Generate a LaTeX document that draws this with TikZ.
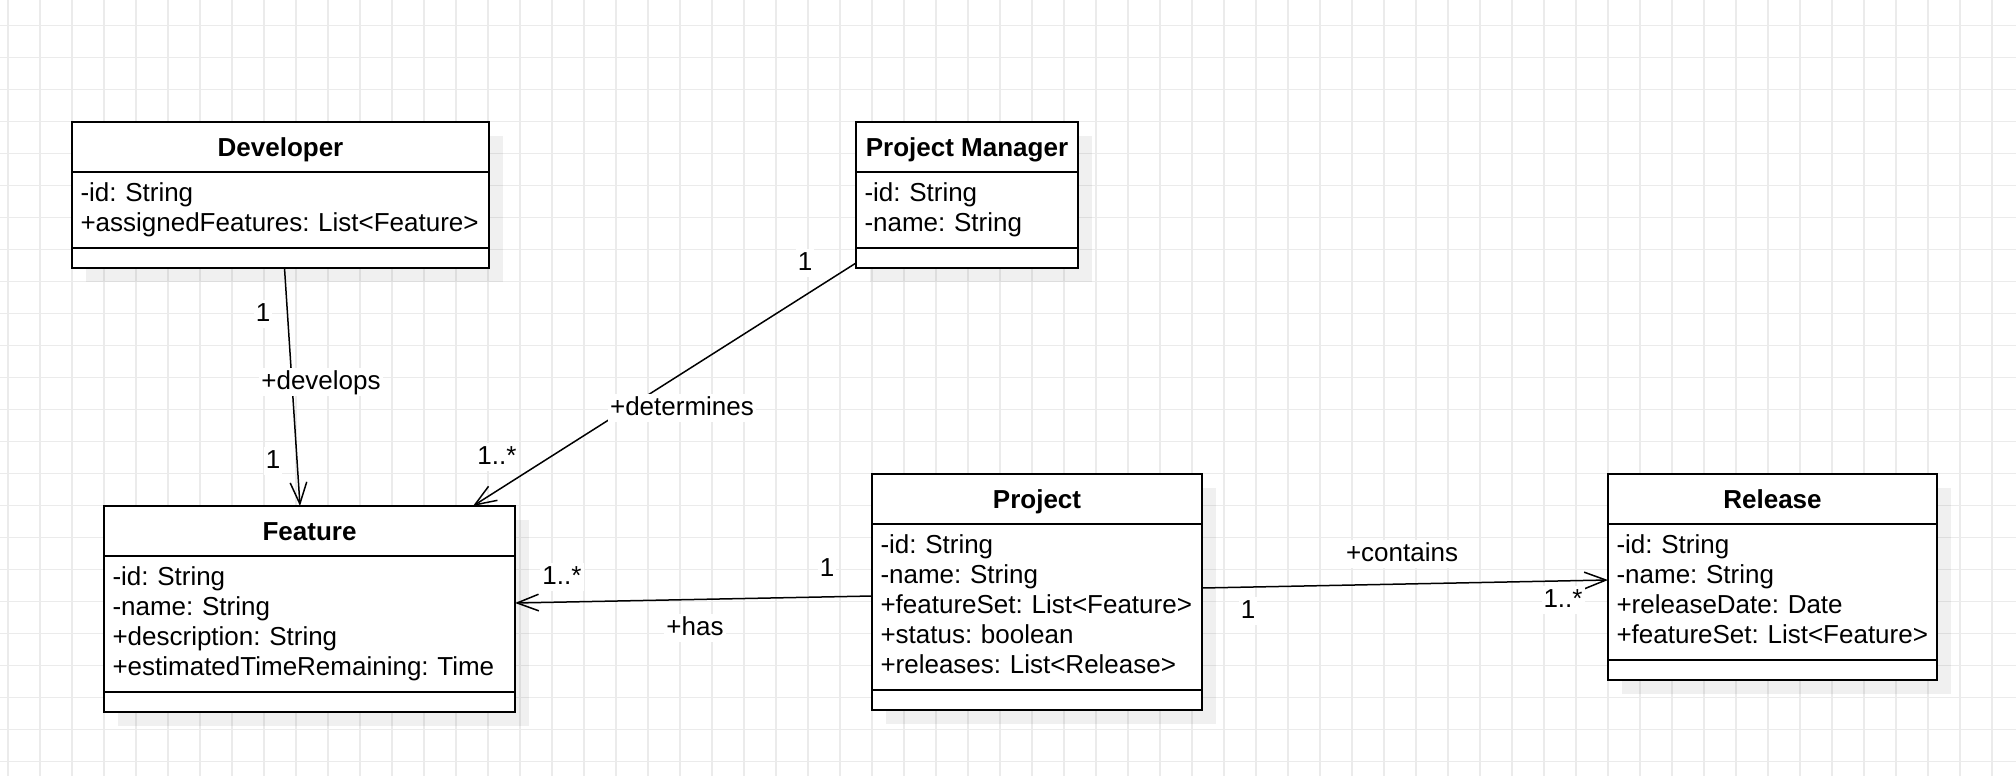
\documentclass[tikz,border=0pt]{standalone}
\usepackage{fontspec}
\setmainfont{Liberation Sans}
\usetikzlibrary{positioning,arrows.meta,shadows}
\definecolor{gridgray}{HTML}{EBEBEB}

\tikzset{
  gridline/.style={draw=gridgray, line width=0.65pt},
  boxshadow/.style={drop shadow={shadow xshift=7pt, shadow yshift=-7pt, fill=black, opacity=0.06}},
  clshead/.style={draw, line width=0.9pt, fill=white, outer sep=0pt, inner sep=0pt,
    minimum height=25pt, text height=9.7pt, text depth=0pt,
    font=\fontsize{13pt}{15pt}\selectfont\bfseries, boxshadow},
  clsattr/.style={draw, line width=0.9pt, fill=white, outer sep=0pt, inner xsep=4.25pt, inner ysep=0pt,
    align=left, font=\fontsize{13pt}{15pt}\selectfont, boxshadow},
  clsops/.style={draw, line width=0.9pt, fill=white, outer sep=0pt, inner sep=0pt,
    minimum height=10pt, boxshadow},
  assoc/.style={line width=0.75pt, -{Straight Barb[length=10.8pt,width=8.3pt]}},
  lbl/.style={fill=white, inner xsep=1pt, inner ysep=0.5pt, text height=10pt, text depth=3pt,
    font=\fontsize{13pt}{15pt}\selectfont}
}

\begin{document}
\begin{tikzpicture}[x=0.5pt, y=-0.5pt]
\useasboundingbox (0,0) rectangle (2016,776);
\foreach \i in {0,...,62} \draw[gridline] ({8+32*\i},0) -- ({8+32*\i},776);
\foreach \j in {0,...,23} \draw[gridline] (0,{25.7+32*\j}) -- (2016,{25.7+32*\j});

\node[clshead, minimum width=208.5pt, anchor=north west] (dev) at (72,122) {Developer};
\node[clsattr, below=0pt of dev, text width=200pt, minimum height=38pt] (devattr)
  {\strut-id:~String\\+assignedFeatures:~List<Feature>\strut};
\node[clsops, below=0pt of devattr, minimum width=208.5pt] (devops) {};

\node[clshead, minimum width=111pt, anchor=north west] (pm) at (856,122) {Project Manager};
\node[clsattr, below=0pt of pm, text width=102.5pt, minimum height=38pt] (pmattr)
  {\strut-id:~String\\-name:~String\strut};
\node[clsops, below=0pt of pmattr, minimum width=111pt] (pmops) {};

\node[clshead, minimum width=205.5pt, anchor=north west] (feat) at (104,506) {Feature};
\node[clsattr, below=0pt of feat, text width=197pt, minimum height=68pt] (featattr)
  {\strut-id:~String\\-name:~String\\+description:~String\\+estimatedTimeRemaining:~Time\strut};
\node[clsops, below=0pt of featattr, minimum width=205.5pt] (featops) {};

\node[clshead, minimum width=165pt, anchor=north west] (proj) at (872,474) {Project};
\node[clsattr, below=0pt of proj, text width=156.5pt, minimum height=83pt] (projattr)
  {\strut-id:~String\\-name:~String\\+featureSet:~List<Feature>\\+status:~boolean\\+releases:~List<Release>\strut};
\node[clsops, below=0pt of projattr, minimum width=165pt] (projops) {};

\node[clshead, minimum width=164.5pt, anchor=north west] (rel) at (1608,474) {Release};
\node[clsattr, below=0pt of rel, text width=156pt, minimum height=68pt] (relattr)
  {\strut-id:~String\\-name:~String\\+releaseDate:~Date\\+featureSet:~List<Feature>\strut};
\node[clsops, below=0pt of relattr, minimum width=164.5pt] (relops) {};

\draw[assoc] ([xshift=2pt]devops.south) -- ([xshift=-4.75pt]feat.north);
\draw[assoc] ([yshift=-2.5pt]pmops.west) -- ([xshift=-21pt]feat.north east);
\draw[assoc] ([yshift=5.5pt]projattr.west) -- ([yshift=10.5pt]featattr.east);
\draw[assoc] ([yshift=9.5pt]projattr.east) -- ([yshift=6pt]relattr.west);

\node[lbl] (developslbl) at (321,382) {+develops};
\node[lbl] (devmult) at (263,314) {1};
\node[lbl] (featdevmult) at (273,461) {1};
\node[lbl] (determineslbl) at (682,408) {+determines};
\node[lbl] (pmmult) at (805,263) {1};
\node[lbl] (featpmmult) at (497,457) {1..*};
\node[lbl] (haslbl) at (695,628) {+has};
\node[lbl] (projhasmult) at (827,569) {1};
\node[lbl] (feathasmult) at (562,577) {1..*};
\node[lbl] (containslbl) at (1402,554) {+contains};
\node[lbl] (projrelmult) at (1248,611) {1};
\node[lbl] (relmult) at (1563,600) {1..*};
\end{tikzpicture}
\end{document}
